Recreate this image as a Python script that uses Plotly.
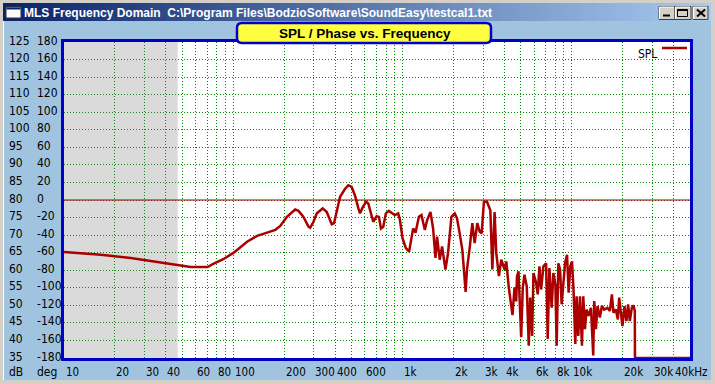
import numpy as np
import plotly.graph_objects as go

# ---------------- data ----------------
freq_hz = [10, 13.1, 16.5, 24.8, 32.5, 42.7, 56, 70.5, 76.7, 87.9, 100.7, 120.7, 138.3, 158.4,
           177.3, 189.6, 207.6, 232.3, 243, 260, 278.4, 284.8, 298, 311.8, 338, 357, 382, 394,
           409, 428, 458, 479, 501, 524, 549, 561, 582, 609, 628, 649, 672, 704, 726, 746, 770,
           798, 831, 869, 902, 944, 966, 1001, 1047, 1095, 1120, 1156, 1194, 1250, 1295, 1355,
           1399, 1463, 1517, 1567, 1601, 1660, 1714, 1794, 1859, 1946, 2036, 2100, 2178, 2258,
           2362, 2405, 2495, 2587, 2669, 2768, 2857, 2937, 3029, 3157, 3305, 3396, 3502, 3583,
           3715, 3835, 4013, 4105, 4250, 4385, 4468, 4592, 4699, 4750, 4848, 5028, 5139, 5259,
           5425, 5574, 5681, 5838, 5942, 6163, 6298, 6445, 6595, 6804, 7059, 7214, 7382, 7616,
           7794, 8008, 8149, 8340, 8534, 8721, 8924, 9132, 9383, 9589, 9812, 10042, 10261, 10500,
           10687, 10936, 11191, 11499, 11703, 11976, 12240, 12575, 12992, 13403, 13586, 13902,
           14206, 14676, 15078, 15557, 16268, 16806, 17270, 17648, 18234, 18734, 19070, 19594,
           19942, 20491, 21055, 21546, 22048, 22655, 23152, 23598, 23650, 50000]
spl_db = [65.2, 64.8, 64.4, 63.5, 62.7, 61.7, 60.9, 60.9, 61.9, 63.2, 65.0, 68.1, 69.8, 70.7,
          71.5, 72.6, 75.2, 77.3, 76.9, 75.2, 72.4, 72.1, 73.8, 76.2, 77.6, 76.6, 73.1, 73.4,
          77.1, 80.9, 83.2, 84.2, 83.7, 81.3, 77.6, 76.2, 77.9, 79.5, 79.0, 76.2, 73.8, 75.4,
          75.2, 71.9, 72.4, 76.2, 76.9, 76.2, 75.7, 76.2, 74.3, 69.1, 66.3, 65.3, 68.1, 71.9,
          70.7, 75.2, 75.7, 71.5, 74.3, 76.6, 71.9, 63.5, 69.6, 63.0, 66.8, 60.2, 64.9, 75.2,
          76.2, 74.8, 70.5, 65.8, 53.8, 60.2, 66.3, 73.4, 67.7, 73.4, 71.0, 70.5, 79.5, 79.5,
          77.1, 60.2, 76.6, 64.9, 58.3, 63.0, 60.2, 62.5, 55.0, 50.7, 47.2, 55.1, 51.1, 58.2,
          59.7, 40.9, 55.1, 58.7, 55.4, 38.5, 52.2, 41.3, 59.2, 56.4, 53.1, 61.1, 54.5, 61.1,
          62.0, 40.4, 60.6, 49.3, 59.2, 55.9, 38.5, 62.0, 60.2, 50.3, 56.4, 62.0, 64.4, 53.6,
          61.1, 62.5, 54.0, 39.0, 52.6, 41.3, 52.6, 38.5, 52.6, 43.2, 48.8, 47.0, 49.3, 35.7,
          51.2, 43.2, 49.8, 46.5, 49.8, 48.8, 49.3, 48.4, 53.1, 47.9, 48.8, 46.0, 52.2, 46.5,
          44.1, 49.8, 45.5, 50.3, 45.5, 49.3, 50.0, 48.4, 35.0, 35.0]
phase_freq_hz = [10, 50000]
phase_deg = [0, 0]
hatch_band_hz = [10, 47]

x_range_hz = [10, 50000]
x_grid_hz = [m * 10 ** e for e in range(1, 5) for m in range(1, 10)] + [50000]
x_tick_hz = [10, 20, 30, 40, 60, 80, 100, 200, 300, 400, 600, 1000, 2000, 3000, 4000, 6000,
             8000, 10000, 20000, 30000, 40000]
x_tick_text = ["10", "20", "30", "40", "60", "80", "100", "200", "300", "400", "600", "1k",
               "2k", "3k", "4k", "6k", "8k", "10k", "20k", "30k", "40kHz"]
db_ticks = [125, 120, 115, 110, 105, 100, 95, 90, 85, 80, 75, 70, 65, 60, 55, 50, 45, 40, 35]
deg_ticks = [180, 160, 140, 120, 100, 80, 60, 40, 20, 0, -20, -40, -60, -80, -100, -120,
             -140, -160, -180]

# ---------------- layout helpers ----------------
FW, FH = 715, 384
L, R, T, B = 64, 690, 42, 358
PANEL = "#a0c4df"
FRAME = "#d4d0c8"
GRID = "#008c00"
BORDER = "#0000c8"
RED = "#aa0000"
NARROW = "Liberation Sans Narrow, Arial Narrow, DejaVu Sans Condensed, sans-serif"
SANS = "Liberation Sans, Arial, sans-serif"
LBL = 12
XLBL = 11.5


def X(px):
    return (px - L) / (R - L)


def Y(py):
    return (B - py) / (B - T)


shapes = []
annotations = []


def rect(x0, y0, x1, y1, fill, line=None, lw=0, layer="above"):
    shapes.append(dict(type="rect", xref="paper", yref="paper",
                       x0=X(x0), x1=X(x1), y0=Y(y1), y1=Y(y0),
                       fillcolor=fill, line=dict(color=line or fill, width=lw), layer=layer))


def seg(x0, y0, x1, y1, color, lw):
    shapes.append(dict(type="line", xref="paper", yref="paper",
                       x0=X(x0), x1=X(x1), y0=Y(y0), y1=Y(y1),
                       line=dict(color=color, width=lw), layer="above"))


# window frame
rect(0, 0, FW, 3, FRAME)
rect(0, 0, 3, FH, FRAME)
rect(711, 0, FW, FH, FRAME)
rect(0, 380, FW, FH, FRAME)
seg(3.5, 21, 3.5, 380, "white", 1)

# title bar gradient
c0 = np.array([10, 36, 106])
c1 = np.array([166, 202, 240])
n = 118
for i in range(n):
    xa = 3 + (711 - 3) * i / n
    xb = 3 + (711 - 3) * (i + 1) / n + 0.6
    c = c0 + (c1 - c0) * (i / (n - 1))
    rect(xa, 3, min(xb, 711), 21, "rgb(%d,%d,%d)" % tuple(c.astype(int)))

# icon
rect(6, 7, 21, 18, "white", "#303030", 1)
rect(6.5, 7.5, 20.5, 9.5, "#0a246a")

# buttons
for bx0, bx1 in [(659, 675), (675, 691), (693, 708)]:
    rect(bx0, 6.5, bx1, 19.5, FRAME, "#404040", 1)
    seg(bx0 + 0.5, 7, bx1 - 1, 7, "white", 1)
    seg(bx0 + 0.5, 7, bx0 + 0.5, 19, "white", 1)
seg(663, 15.5, 670, 15.5, "black", 2)
rect(677.5, 9.5, 687.5, 16.5, "rgba(0,0,0,0)", "black", 1)
seg(677.5, 10, 687.5, 10, "black", 2)
seg(697, 9.5, 705, 16.5, "black", 2)
seg(705, 9.5, 697, 16.5, "black", 2)

annotations.append(dict(xref="paper", yref="paper", x=X(22), y=Y(13), xanchor="left",
                        yanchor="middle", showarrow=False,
                        text="<b>MLS Frequency Domain\u00a0 C:\\Program Files\\BodzioSoftware\\SoundEasy\\testcal1.txt</b>",
                        font=dict(family=SANS, size=12, color="white")))

# yellow title box
bx0, by0, bx1, by1, r = 237, 23, 491, 43, 5
path = (f"M {X(bx0 + r)},{Y(by0)} L {X(bx1 - r)},{Y(by0)} Q {X(bx1)},{Y(by0)} {X(bx1)},{Y(by0 + r)} "
        f"L {X(bx1)},{Y(by1 - r)} Q {X(bx1)},{Y(by1)} {X(bx1 - r)},{Y(by1)} "
        f"L {X(bx0 + r)},{Y(by1)} Q {X(bx0)},{Y(by1)} {X(bx0)},{Y(by1 - r)} "
        f"L {X(bx0)},{Y(by0 + r)} Q {X(bx0)},{Y(by0)} {X(bx0 + r)},{Y(by0)} Z")
shapes.append(dict(type="path", xref="paper", yref="paper", path=path,
                   fillcolor="#ffff40", line=dict(color=BORDER, width=2.5), layer="above"))
annotations.append(dict(xref="paper", yref="paper", x=X(364.5), y=Y(33), xanchor="center",
                        yanchor="middle", showarrow=False,
                        text="<b>SPL / Phase vs. Frequency</b>",
                        font=dict(family=SANS, size=13.5, color="black")))

# legend
seg(662, 48, 687, 48, RED, 2.5)
annotations.append(dict(xref="paper", yref="paper", x=X(636), y=Y(54), xanchor="left",
                        yanchor="middle", showarrow=False, text="SPL",
                        font=dict(family=NARROW, size=LBL, color="black")))

# y labels (two columns)
for dbv, dgv in zip(db_ticks, deg_ticks):
    annotations.append(dict(xref="paper", yref="y", x=X(7.5), y=dbv, xanchor="left",
                            yanchor="middle", yshift=1.5, showarrow=False, text=str(dbv),
                            font=dict(family=NARROW, size=LBL, color="black")))
    annotations.append(dict(xref="paper", yref="y", x=X(34.5), y=dbv, xanchor="left",
                            yanchor="middle", yshift=1.5, showarrow=False, text=str(dgv),
                            font=dict(family=NARROW, size=LBL, color="black")))
for txt, px in [("dB", 7.5), ("deg", 34.5)]:
    annotations.append(dict(xref="paper", yref="paper", x=X(px), y=Y(372), xanchor="left",
                            yanchor="middle", showarrow=False, text=txt,
                            font=dict(family=NARROW, size=LBL, color="black")))

# x labels (left aligned at the grid line)
for fv, txt in zip(x_tick_hz, x_tick_text):
    annotations.append(dict(xref="x", yref="paper", x=np.log10(fv), y=Y(372), xanchor="left",
                            yanchor="middle", xshift=-0.5, showarrow=False, text=txt,
                            font=dict(family=NARROW, size=XLBL, color="black")))

# ---------------- traces ----------------
fig = go.Figure()
h0, h1 = hatch_band_hz
fig.add_trace(go.Scatter(x=[h0, h1, h1, h0, h0], y=[35, 35, 125, 125, 35], mode="none",
                         fill="toself", fillcolor="rgba(0,0,0,0)",
                         fillpattern=dict(shape="-", fgcolor="#6a6a6a",
                                          bgcolor="rgba(255,255,255,0)", size=2, solidity=0.5),
                         hoverinfo="skip", showlegend=False))
fig.add_trace(go.Scatter(x=phase_freq_hz, y=phase_deg, yaxis="y2", mode="lines",
                         line=dict(color="#a00000", width=1), showlegend=False))
fig.add_trace(go.Scatter(x=freq_hz, y=spl_db, mode="lines", name="SPL",
                         line=dict(color=RED, width=2.5), showlegend=False))

axis_common = dict(showgrid=True, gridcolor=GRID, gridwidth=1, griddash="1px,2px",
                   showline=True, linecolor=BORDER, linewidth=3, mirror=True,
                   zeroline=False, showticklabels=False, ticks="", fixedrange=True)
fig.update_layout(
    width=FW, height=FH,
    margin=dict(l=L, r=FW - R, t=T, b=FH - B, pad=0),
    paper_bgcolor=PANEL, plot_bgcolor="white",
    showlegend=False,
    xaxis=dict(type="log", range=[np.log10(x_range_hz[0]), np.log10(x_range_hz[1])],
               tickvals=x_grid_hz, **axis_common),
    yaxis=dict(range=[35, 125], tickvals=db_ticks, **axis_common),
    yaxis2=dict(range=[-180, 180], overlaying="y", visible=False, fixedrange=True),
    shapes=shapes, annotations=annotations,
)

fig.write_html("out.html", config={"displayModeBar": False, "staticPlot": True},
               post_script="document.body.style.margin='0';document.body.style.padding='0';"
                           "document.body.style.overflow='hidden';")
